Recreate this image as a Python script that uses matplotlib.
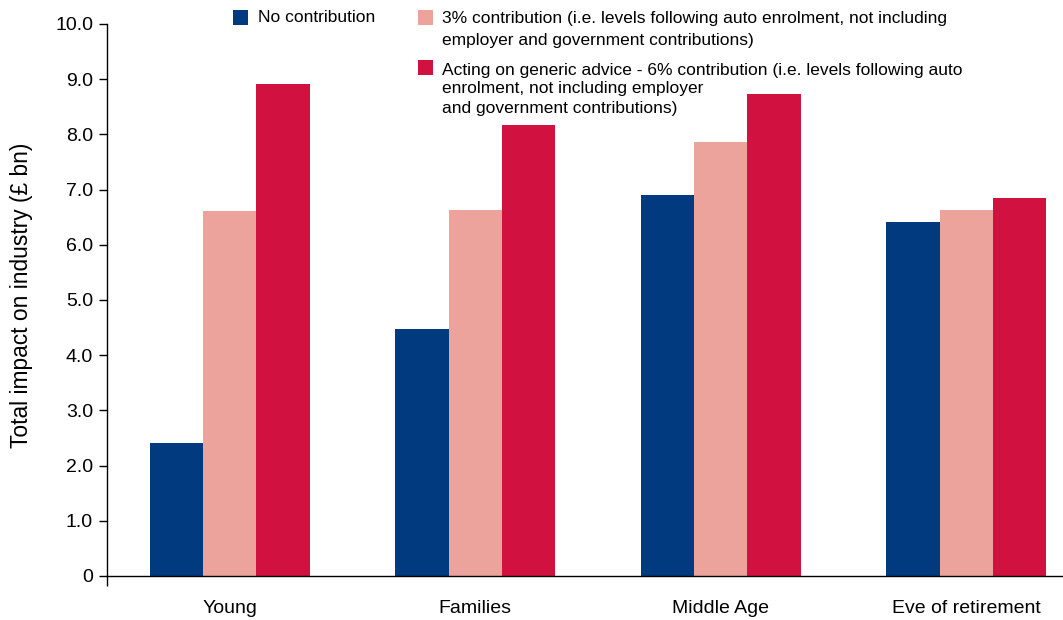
import numpy as np
import matplotlib
matplotlib.use("Agg")
import matplotlib.pyplot as plt
from matplotlib.patches import Rectangle

plt.rcParams['font.family'] = ['Liberation Sans', 'DejaVu Sans']

categories = ["Young", "Families", "Middle Age", "Eve of retirement"]
no_contrib = [2.41, 4.47, 6.90, 6.41]
contrib_3 = [6.61, 6.63, 7.86, 6.63]
contrib_6 = [8.91, 8.17, 8.73, 6.85]
yticks = [0, 1, 2, 3, 4, 5, 6, 7, 8, 9, 10]
ytick_labels = ["0", "1.0", "2.0", "3.0", "4.0", "5.0", "6.0", "7.0", "8.0", "9.0", "10.0"]

labels = [["No contribution"],
          ["3% contribution (i.e. levels following auto enrolment, not including",
           "employer and government contributions)"],
          ["Acting on generic advice - 6% contribution (i.e. levels following auto",
           "enrolment, not including employer",
           "and government contributions)"]]
colors = ["#023a80", "#eba39b", "#d11241"]

W, H = 1063, 620
fig = plt.figure(figsize=(W / 100, H / 100), dpi=100)
ax = fig.add_axes([107 / W, 1 - 576 / H, (1062 - 107) / W, (576 - 24) / H])

x = np.arange(len(categories))
bw = 0.217
for i, (vals, c) in enumerate(zip([no_contrib, contrib_3, contrib_6], colors)):
    ax.bar(x + (i - 1) * bw, vals, bw, color=c, linewidth=0)

ax.set_xlim(-0.5, 3.39)
ax.set_ylim(0, 10)
ax.set_yticks(yticks)
ax.set_yticklabels(ytick_labels, fontsize=14)
ax.set_xticks(x)
ax.set_xticklabels(categories, fontsize=14)
ax.set_xticks([-0.5], minor=True)
ax.tick_params(axis='x', which='major', length=0, pad=17)
ax.tick_params(axis='x', which='minor', length=7, width=1)
ax.tick_params(axis='y', direction='out', length=6, width=1, pad=4)
for s in ['top', 'right']:
    ax.spines[s].set_visible(False)
for s in ['left', 'bottom']:
    ax.spines[s].set_linewidth(1)
fig.text(22 / W, 1 - 295 / H, "Total impact on industry (£ bn)", fontsize=16.4,
         rotation=90, ha='center', va='center')

# legend drawn by hand
boxes = [(233, 10), (418, 10), (418, 60)]
text_x = [258, 442, 442]
line_y = [[18], [18, 40], [70, 89, 108]]
for (bx, by), tx, ys, lines, c in zip(boxes, text_x, line_y, labels, colors):
    fig.add_artist(Rectangle((bx / W, 1 - (by + 15) / H), 15 / W, 15 / H,
                             transform=fig.transFigure, color=c, lw=0))
    for ty, line in zip(ys, lines):
        fig.text(tx / W, 1 - ty / H, line, fontsize=12.5, va='center', ha='left')

fig.savefig("out.png", dpi=100)
